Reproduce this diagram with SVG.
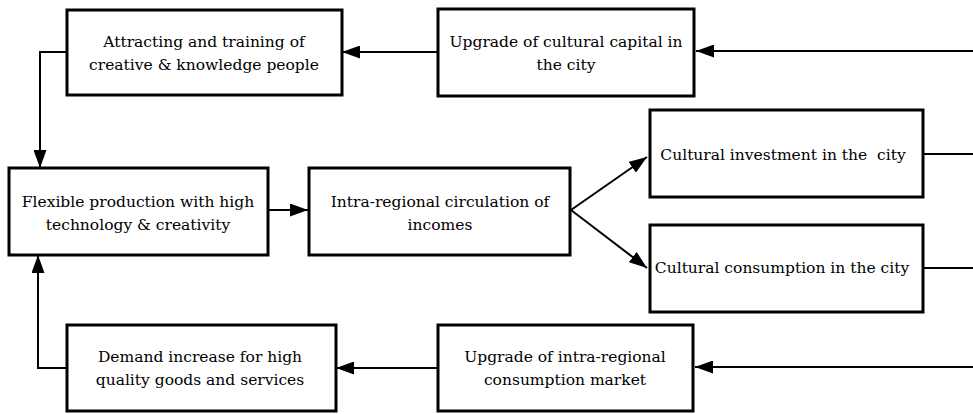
<svg xmlns="http://www.w3.org/2000/svg" width="973" height="414" viewBox="0 0 973 414">
<defs>
<marker id="ah" viewBox="0 0 18 13" refX="18" refY="6.5" markerWidth="18" markerHeight="13" markerUnits="userSpaceOnUse" orient="auto">
<path d="M0,0 L18,6.5 L0,13 Z" fill="#000"/>
</marker>
</defs>
<style>
.box{fill:#fff;stroke:#000;stroke-width:3}
.t{font-family:'DejaVu Serif','Liberation Serif',serif;font-size:15.5px;fill:#000;text-anchor:middle}
.c{fill:none;stroke:#000;stroke-width:2}
</style>
<rect width="973" height="414" fill="#fff"/>
<g id="connectors">
<path class="c" d="M437,52 L342,52" marker-end="url(#ah)"/>
<path class="c" d="M973,51 L696,51" marker-end="url(#ah)"/>
<path class="c" d="M66,52 L40,52 L40,168" marker-end="url(#ah)"/>
<path class="c" d="M66,368 L38,368 L38,255" marker-end="url(#ah)"/>
<path class="c" d="M268,210 L308,210" marker-end="url(#ah)"/>
<path class="c" d="M571,210 L647,157" marker-end="url(#ah)"/>
<path class="c" d="M571,210 L647,268" marker-end="url(#ah)"/>
<path class="c" d="M923,154 L973,154"/>
<path class="c" d="M923,268 L973,268"/>
<path class="c" d="M437,368 L336,368" marker-end="url(#ah)"/>
<path class="c" d="M973,367 L695,367" marker-end="url(#ah)"/>
</g>
<g id="attracting">
<rect class="box" x="67" y="10" width="275" height="85"/>
<text class="t" x="204" y="47">Attracting and training of</text>
<text class="t" x="204" y="70">creative &amp; knowledge people</text>
</g>
<g id="upgrade-capital">
<rect class="box" x="438" y="9" width="256" height="87"/>
<text class="t" x="566" y="47">Upgrade of cultural capital in</text>
<text class="t" x="566" y="70">the city</text>
</g>
<g id="flexible">
<rect class="box" x="9" y="168" width="259" height="87"/>
<text class="t" x="138" y="207">Flexible production with high</text>
<text class="t" x="138" y="230">technology &amp; creativity</text>
</g>
<g id="intra-circulation">
<rect class="box" x="309" y="168" width="261" height="87"/>
<text class="t" x="440" y="207">Intra-regional circulation of</text>
<text class="t" x="440" y="230">incomes</text>
</g>
<g id="cultural-investment">
<rect class="box" x="650" y="110" width="273" height="87"/>
<text class="t" x="783" y="160" xml:space="preserve">Cultural investment in the  city</text>
</g>
<g id="cultural-consumption">
<rect class="box" x="650" y="225" width="273" height="87"/>
<text class="t" x="782" y="273">Cultural consumption in the city</text>
</g>
<g id="demand">
<rect class="box" x="67" y="325" width="269" height="86"/>
<text class="t" x="200" y="362">Demand increase for high</text>
<text class="t" x="200" y="385">quality goods and services</text>
</g>
<g id="upgrade-market">
<rect class="box" x="438" y="325" width="255" height="86"/>
<text class="t" x="565" y="362">Upgrade of intra-regional</text>
<text class="t" x="565" y="385">consumption market</text>
</g>
</svg>
